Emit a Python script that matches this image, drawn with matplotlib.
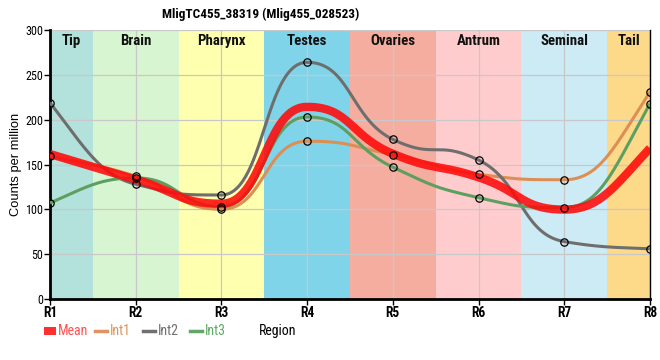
import numpy as np
import matplotlib
matplotlib.use("Agg")
import matplotlib.pyplot as plt
from matplotlib.font_manager import fontManager

# ---------------- data ----------------
title = "MligTC455_38319 (Mlig455_028523)"
regions = ["R1", "R2", "R3", "R4", "R5", "R6", "R7", "R8"]
int1 = [159, 137, 100, 176, 161, 139, 133, 231]
int2 = [219, 128, 116, 264, 178, 155, 64, 56]
int3 = [107, 135, 103, 203, 147, 113, 102, 218]
mean = [round((a + b + c) / 3, 1) for a, b, c in zip(int1, int2, int3)]

tissues = ["Tip", "Brain", "Pharynx", "Testes", "Ovaries", "Antrum", "Seminal", "Tail"]
tissue_spans = [(0, 0.5), (0.5, 1.5), (1.5, 2.5), (2.5, 3.5), (3.5, 4.5), (4.5, 5.5), (5.5, 6.5), (6.5, 7)]
tissue_colors = ["#b3e2dd", "#d7f5d0", "#ffffb0", "#80d4ea", "#f5ada0", "#ffcccd", "#cdebf5", "#fdd98a"]
y_ticks = [0, 50, 100, 150, 200, 250, 300]

# ---------------- fonts ----------------
def pick_condensed():
    ents = fontManager.ttflist
    for nm in ["Roboto Condensed", "Liberation Sans Narrow", "Open Sans Condensed", "Noto Sans Condensed"]:
        if any(e.name == nm for e in ents):
            return nm, "normal"
    for nm in ["Noto Sans", "Roboto", "Open Sans", "DejaVu Sans", "Liberation Sans"]:
        if any(e.name == nm and str(e.stretch) in ("condensed", "semi-condensed", "extra-condensed")
               for e in ents):
            return nm, "condensed"
    return "Liberation Sans", "normal"

CF, CS = pick_condensed()
plt.rcParams['font.family'] = ["Liberation Sans", "DejaVu Sans"]
COND = dict(family=[CF, "DejaVu Sans"], fontstretch=CS)

fig = plt.figure(figsize=(6.6, 3.6), dpi=100)
renderer = fig.canvas.get_renderer()


def fit_size(text, target_px, weight="normal", base=10.0, grow=1.15, maxsize=11.0):
    t = fig.text(0, 0, text, fontsize=base, fontweight=weight, **COND)
    w = t.get_window_extent(renderer).width
    t.remove()
    return min(base * target_px / w * grow, maxsize)


s_title = fit_size(title, 172, "bold")
s_region = fit_size("Pharynx", 42, "bold")
s_xtick = fit_size("R4", 12.5, "bold")
s_ytick = fit_size("300", 17, grow=1.05)
s_leg = fit_size("Mean", 28, grow=1.08)


def monotone_curve(xs, ys, k=0.5, n=60):
    xs = np.asarray(xs, float); ys = np.asarray(ys, float)
    m = len(xs)
    h = np.diff(xs); s = np.diff(ys) / h
    t = np.zeros(m)
    for i in range(1, m - 1):
        s0, s1 = s[i - 1], s[i]
        p = (s0 * h[i] + s1 * h[i - 1]) / (h[i - 1] + h[i])
        t[i] = (np.sign(s0) + np.sign(s1)) * min(abs(s0), abs(s1), 0.5 * abs(p))
    t[0] = (3 * s[0] - t[1]) / 2
    t[-1] = (3 * s[-1] - t[-2]) / 2
    X, Y = [], []
    u = np.linspace(0, 1, n)
    b = [(1 - u) ** 3, 3 * u * (1 - u) ** 2, 3 * u ** 2 * (1 - u), u ** 3]
    for i in range(m - 1):
        x0, x1, y0, y1 = xs[i], xs[i + 1], ys[i], ys[i + 1]
        kk = k if 0 < i < m - 2 else 1 / 3 + (k - 1 / 3) * 0.5
        d = (x1 - x0) * kk
        px = [x0, x0 + d, x1 - d, x1]
        py = [y0, y0 + d * t[i], y1 - d * t[i + 1], y1]
        X.append(sum(bb * pp for bb, pp in zip(b, px)))
        Y.append(sum(bb * pp for bb, pp in zip(b, py)))
    return np.concatenate(X), np.concatenate(Y)


ax = fig.add_axes([50 / 660, 61 / 360, 600 / 660, 269 / 360])
x = np.arange(len(regions))

for (a, b), c, name in zip(tissue_spans, tissue_colors, tissues):
    ax.axvspan(a, b, color=c, zorder=0, lw=0)
    ax.text((a + b) / 2, 295, name, ha="center", va="top", fontsize=s_region,
            fontweight="bold", color="#111111", zorder=1, **COND)

ax.grid(True, color="#c8c8c8", lw=0.9, zorder=0.5)
ax.set_axisbelow(True)

series = [("Int1", int1, "#dc8f55"), ("Int2", int2, "#6e6e6e"), ("Int3", int3, "#5c9f60")]
for name, vals, col in series:
    sx, sy = monotone_curve(x, vals)
    ax.plot(sx, sy, color=col, lw=2.2, zorder=3, solid_capstyle="butt")
mx, my = monotone_curve(x, mean)
ax.plot(mx, my, color="#ff0a0a", lw=6, alpha=0.88, zorder=4, solid_capstyle="butt")
for name, vals, col in series:
    ax.plot(x, vals, ls="none", marker="o", ms=5.3, mfc="none", mec="black", mew=0.9, zorder=5)

ax.set_xlim(0, 7)
ax.set_ylim(0, 300)
ax.set_xticks(x)
ax.set_xticklabels(regions, fontsize=s_xtick, fontweight="bold", **COND)
ax.set_yticks(y_ticks)
ax.set_yticklabels([str(v) for v in y_ticks], fontsize=s_ytick, **COND)
ax.tick_params(axis="both", direction="out", length=4, width=1, color="black", pad=1)
ax.spines["top"].set_visible(False)
ax.spines["left"].set_linewidth(2)
ax.spines["bottom"].set_linewidth(2)
ax.spines["right"].set_linewidth(1)
ax.set_ylabel("Counts per million", fontsize=9.3, labelpad=2)

fig.text(261 / 660, 1 - 8 / 360, title, ha="center", va="top", fontsize=s_title,
         fontweight="bold", **COND)

# legend
ly = 1 - 331 / 360
fig.patches.append(plt.Rectangle((44 / 660, ly - 4 / 360), 12 / 660, 8 / 360,
                                 transform=fig.transFigure, color="#ff3030", lw=0))
fig.text(58 / 660, ly, "Mean", color="#ff5050", fontsize=s_leg, va="center", **COND)
leg = [("Int1", "#e0935c", 95), ("Int2", "#707070", 143), ("Int3", "#5fa865", 190)]
for name, col, px in leg:
    fig.add_artist(plt.Line2D([px / 660, (px + 12) / 660], [ly, ly], color=col, lw=2.5,
                              transform=fig.transFigure))
    fig.text((px + 15) / 660, ly, name, color=col, fontsize=s_leg, va="center", **COND)
fig.text(278 / 660, ly, "Region", color="black", fontsize=s_leg, va="center", ha="center", **COND)

fig.savefig("out.png", dpi=100)
